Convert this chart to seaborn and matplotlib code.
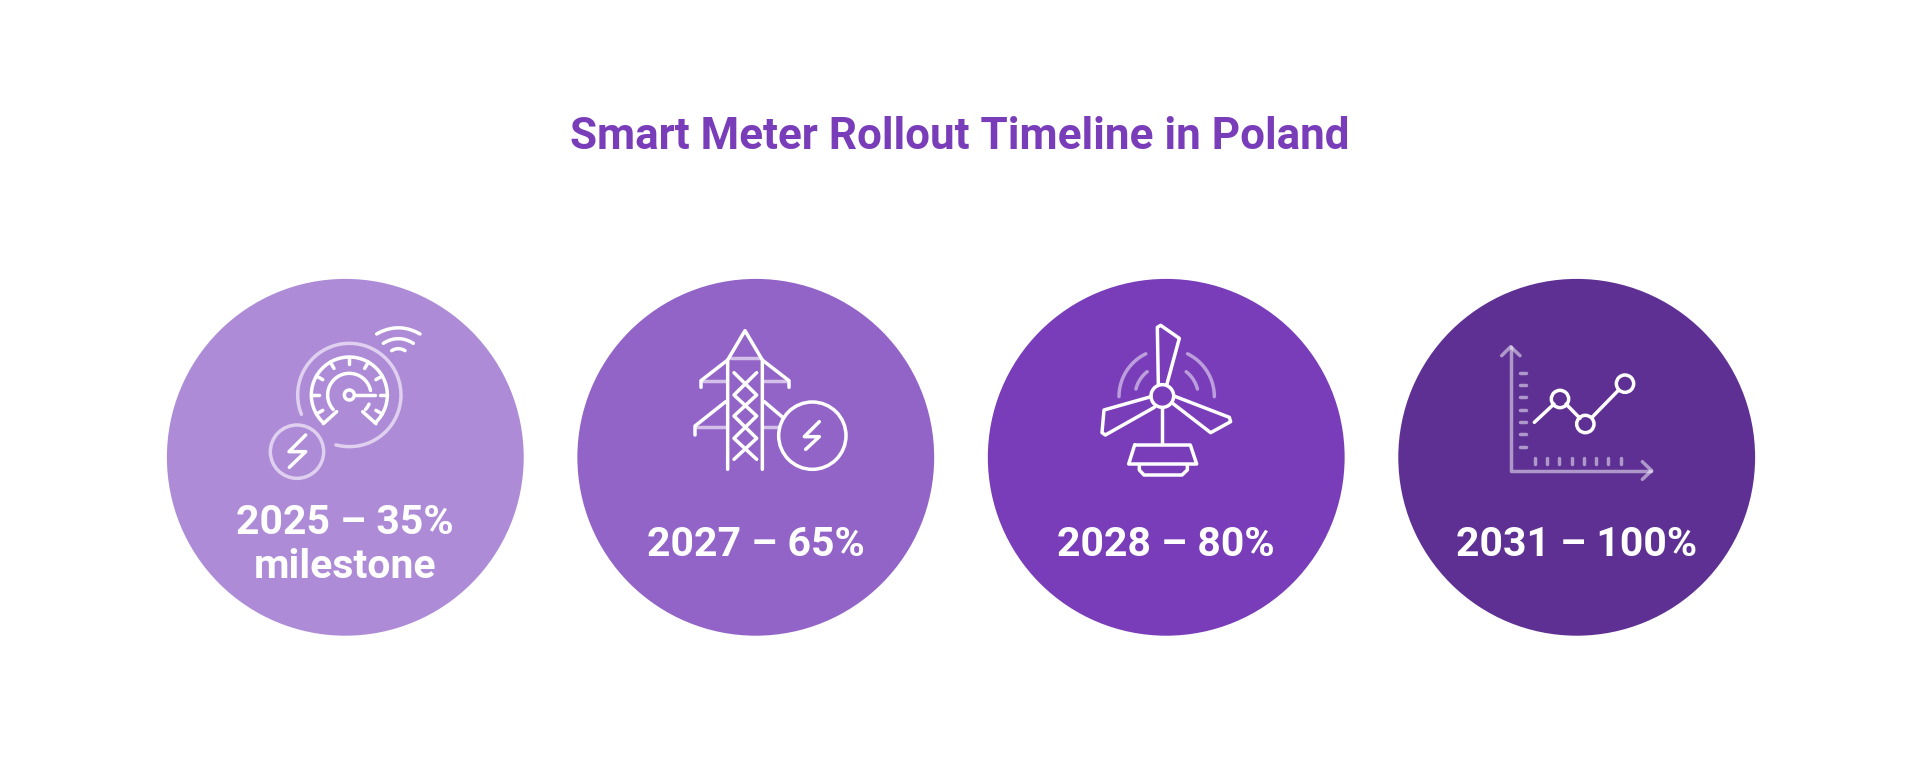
#!/usr/bin/env python3

import numpy as np
import pandas as pd
import matplotlib
matplotlib.use('Agg')
import matplotlib.pyplot as plt
import seaborn as sns
from matplotlib.patches import Circle

title = 'Smart Meter Rollout Timeline in Poland'
years = [2025, 2027, 2028, 2031]
shares = [35, 65, 80, 100]
notes = ['milestone', '', '', '']
colors = ['#AE8BD7', '#9364C8', '#793DBA', '#5E3093']

WHITE = '#FFFFFF'
LW = 2.5


def line(ax, origin, pts, alpha=1.0, lw=LW):
    pts = np.array(pts, dtype=float) / 3 + origin
    ax.plot(pts[:, 0], pts[:, 1], color=WHITE, alpha=alpha, lw=lw,
            solid_capstyle='round', solid_joinstyle='round')


def arc(ax, origin, center, r, a0, a1, alpha=1.0, lw=LW):
    # angles in degrees, counted anticlockwise on screen
    t = np.radians(np.linspace(a0, a1, 60))
    pts = np.column_stack([center[0] + r * np.cos(t), center[1] - r * np.sin(t)])
    line(ax, origin, pts, alpha, lw)


def ring(ax, origin, center, r, alpha=1.0, lw=LW):
    c = np.array(center, dtype=float) / 3 + origin
    ax.add_patch(Circle(c, r / 3, fill=False, ec=WHITE, alpha=alpha, lw=lw))


def curve(ax, origin, p0, p1, p2, alpha=1.0, lw=LW):
    t = np.linspace(0, 1, 30)[:, None]
    p0, p1, p2 = np.array(p0), np.array(p1), np.array(p2)
    pts = (1 - t) ** 2 * p0 + 2 * t * (1 - t) * p1 + t ** 2 * p2
    line(ax, origin, pts, alpha, lw)


def draw_meter(ax):
    o = np.array([150, 260])
    c = (598, 405)
    arc(ax, o, c, 155, 202, -105, alpha=0.6)
    arc(ax, o, c, 114, 225, -45)
    arc(ax, o, c, 65, 222, 12)
    arc(ax, o, c, 65, -25, -42)
    line(ax, o, [(560, 455), (520, 491)])
    line(ax, o, [(638, 455), (678, 491)])
    for a in [-30, 0, 30, 60, 90, 120, 150, 180, 210]:
        t = np.radians(a)
        line(ax, o, [(c[0] + 92 * np.cos(t), c[1] - 92 * np.sin(t)),
                     (c[0] + 114 * np.cos(t), c[1] - 114 * np.sin(t))])
    ring(ax, o, c, 15)
    line(ax, o, [(614, 405), (676, 405)])
    curve(ax, o, (680, 222), (745, 185), (810, 222))
    curve(ax, o, (700, 250), (745, 222), (790, 250))
    curve(ax, o, (725, 272), (745, 260), (765, 272))
    ring(ax, o, (441, 575), 80, alpha=0.6)
    line(ax, o, [(467, 525), (417, 575), (467, 575), (418, 622)])


def draw_tower(ax):
    o = np.array([560, 260])
    line(ax, o, [(503, 628), (503, 300), (555, 212), (607, 300), (607, 628)])
    line(ax, o, [(503, 300), (423, 362), (423, 382)])
    line(ax, o, [(607, 300), (687, 362), (687, 382)])
    line(ax, o, [(497, 425), (405, 498), (405, 525)])
    line(ax, o, [(613, 425), (668, 472)])
    line(ax, o, [(512, 295), (598, 295)], alpha=0.6)
    line(ax, o, [(430, 363), (497, 363)], alpha=0.6)
    line(ax, o, [(613, 363), (680, 363)], alpha=0.6)
    line(ax, o, [(412, 500), (497, 500)], alpha=0.6)
    line(ax, o, [(613, 500), (655, 500)], alpha=0.6)
    line(ax, o, [(522, 338), (590, 405), (522, 468), (590, 535), (522, 598)])
    line(ax, o, [(590, 338), (522, 405), (590, 468), (522, 535), (590, 598)])
    ring(ax, o, (757, 527), 101)
    line(ax, o, [(778, 485), (733, 530), (778, 530), (737, 568)])


def draw_turbine(ax):
    o = np.array([970, 260])
    ring(ax, o, (577, 408), 34)
    line(ax, o, [(590, 375), (628, 235), (572, 196), (562, 202), (565, 372)])
    line(ax, o, [(543, 410), (402, 450), (396, 518), (406, 525), (553, 442)])
    line(ax, o, [(612, 408), (778, 472), (782, 485), (722, 518), (608, 430)])
    line(ax, o, [(577, 445), (577, 552)])
    line(ax, o, [(494, 555), (661, 555), (680, 612), (476, 612), (494, 555)])
    line(ax, o, [(508, 615), (508, 630), (522, 645), (636, 645), (652, 630), (652, 615)])
    c = (590, 410)
    arc(ax, o, c, 143, 180, 116, alpha=0.5)
    arc(ax, o, c, 143, 64, 0, alpha=0.5)
    arc(ax, o, c, 95, 166, 128, alpha=0.5)
    arc(ax, o, c, 95, 52, 14, alpha=0.5)


def draw_chart_icon(ax):
    o = np.array([1380, 260])
    line(ax, o, [(392, 262), (392, 632), (812, 632)], alpha=0.5)
    line(ax, o, [(365, 287), (392, 260), (420, 287)], alpha=0.5)
    line(ax, o, [(787, 605), (815, 632), (787, 658)], alpha=0.5)
    for y in [338, 375, 412, 449, 486, 522, 560]:
        line(ax, o, [(420, y), (438, y)], alpha=0.5)
    for x in [464, 501, 538, 575, 612, 648, 685, 722]:
        line(ax, o, [(x, 594), (x, 611)], alpha=0.5)
    line(ax, o, [(463, 487), (522, 432)])
    line(ax, o, [(558, 432), (600, 475)])
    line(ax, o, [(636, 472), (716, 390)])
    ring(ax, o, (540, 417), 26)
    ring(ax, o, (616, 492), 26)
    ring(ax, o, (735, 371), 26)


def main():
    sns.set_theme(style='white')
    plt.rcParams['font.family'] = ['Roboto', 'DejaVu Sans']

    df = pd.DataFrame({'year': [str(y) for y in years], 'share': shares, 'row': 457.3})

    fig = plt.figure(figsize=(19.2, 7.6), dpi=100)
    fig.patch.set_facecolor('white')

    # x axis runs over the four categories, y is in picture rows
    ax = fig.add_axes([345.3 / 1920, 0, (1576.7 - 345.3) / 1920, 1])
    sns.scatterplot(data=df, x='year', y='row', hue='year', palette=colors,
                    s=66000, linewidth=0, legend=False, ax=ax, clip_on=False)
    ax.set_xlim(0, 3)
    ax.set_ylim(760, 0)
    ax.axis('off')

    for i, (y, s, note) in enumerate(zip(years, shares, notes)):
        base = 534 if note else 556
        ax.text(i, base, f'{y} – {s}%', color='white', fontsize=29.5,
                fontweight='bold', ha='center', va='baseline')
        if note:
            ax.text(i, 578, note, color='white', fontsize=29.5,
                    fontweight='bold', ha='center', va='baseline')

    fig.text(0.5, 1 - 149 / 760, title, color=colors[2], fontsize=31.65,
             fontweight='bold', ha='center', va='baseline')

    # icons sit on top in a full-figure pixel axes
    icons = fig.add_axes([0, 0, 1, 1])
    icons.set_xlim(0, 1920)
    icons.set_ylim(760, 0)
    icons.axis('off')
    draw_meter(icons)
    draw_tower(icons)
    draw_turbine(icons)
    draw_chart_icon(icons)

    fig.savefig('out.png', dpi=100)
    plt.close(fig)


if __name__ == '__main__':
    main()
